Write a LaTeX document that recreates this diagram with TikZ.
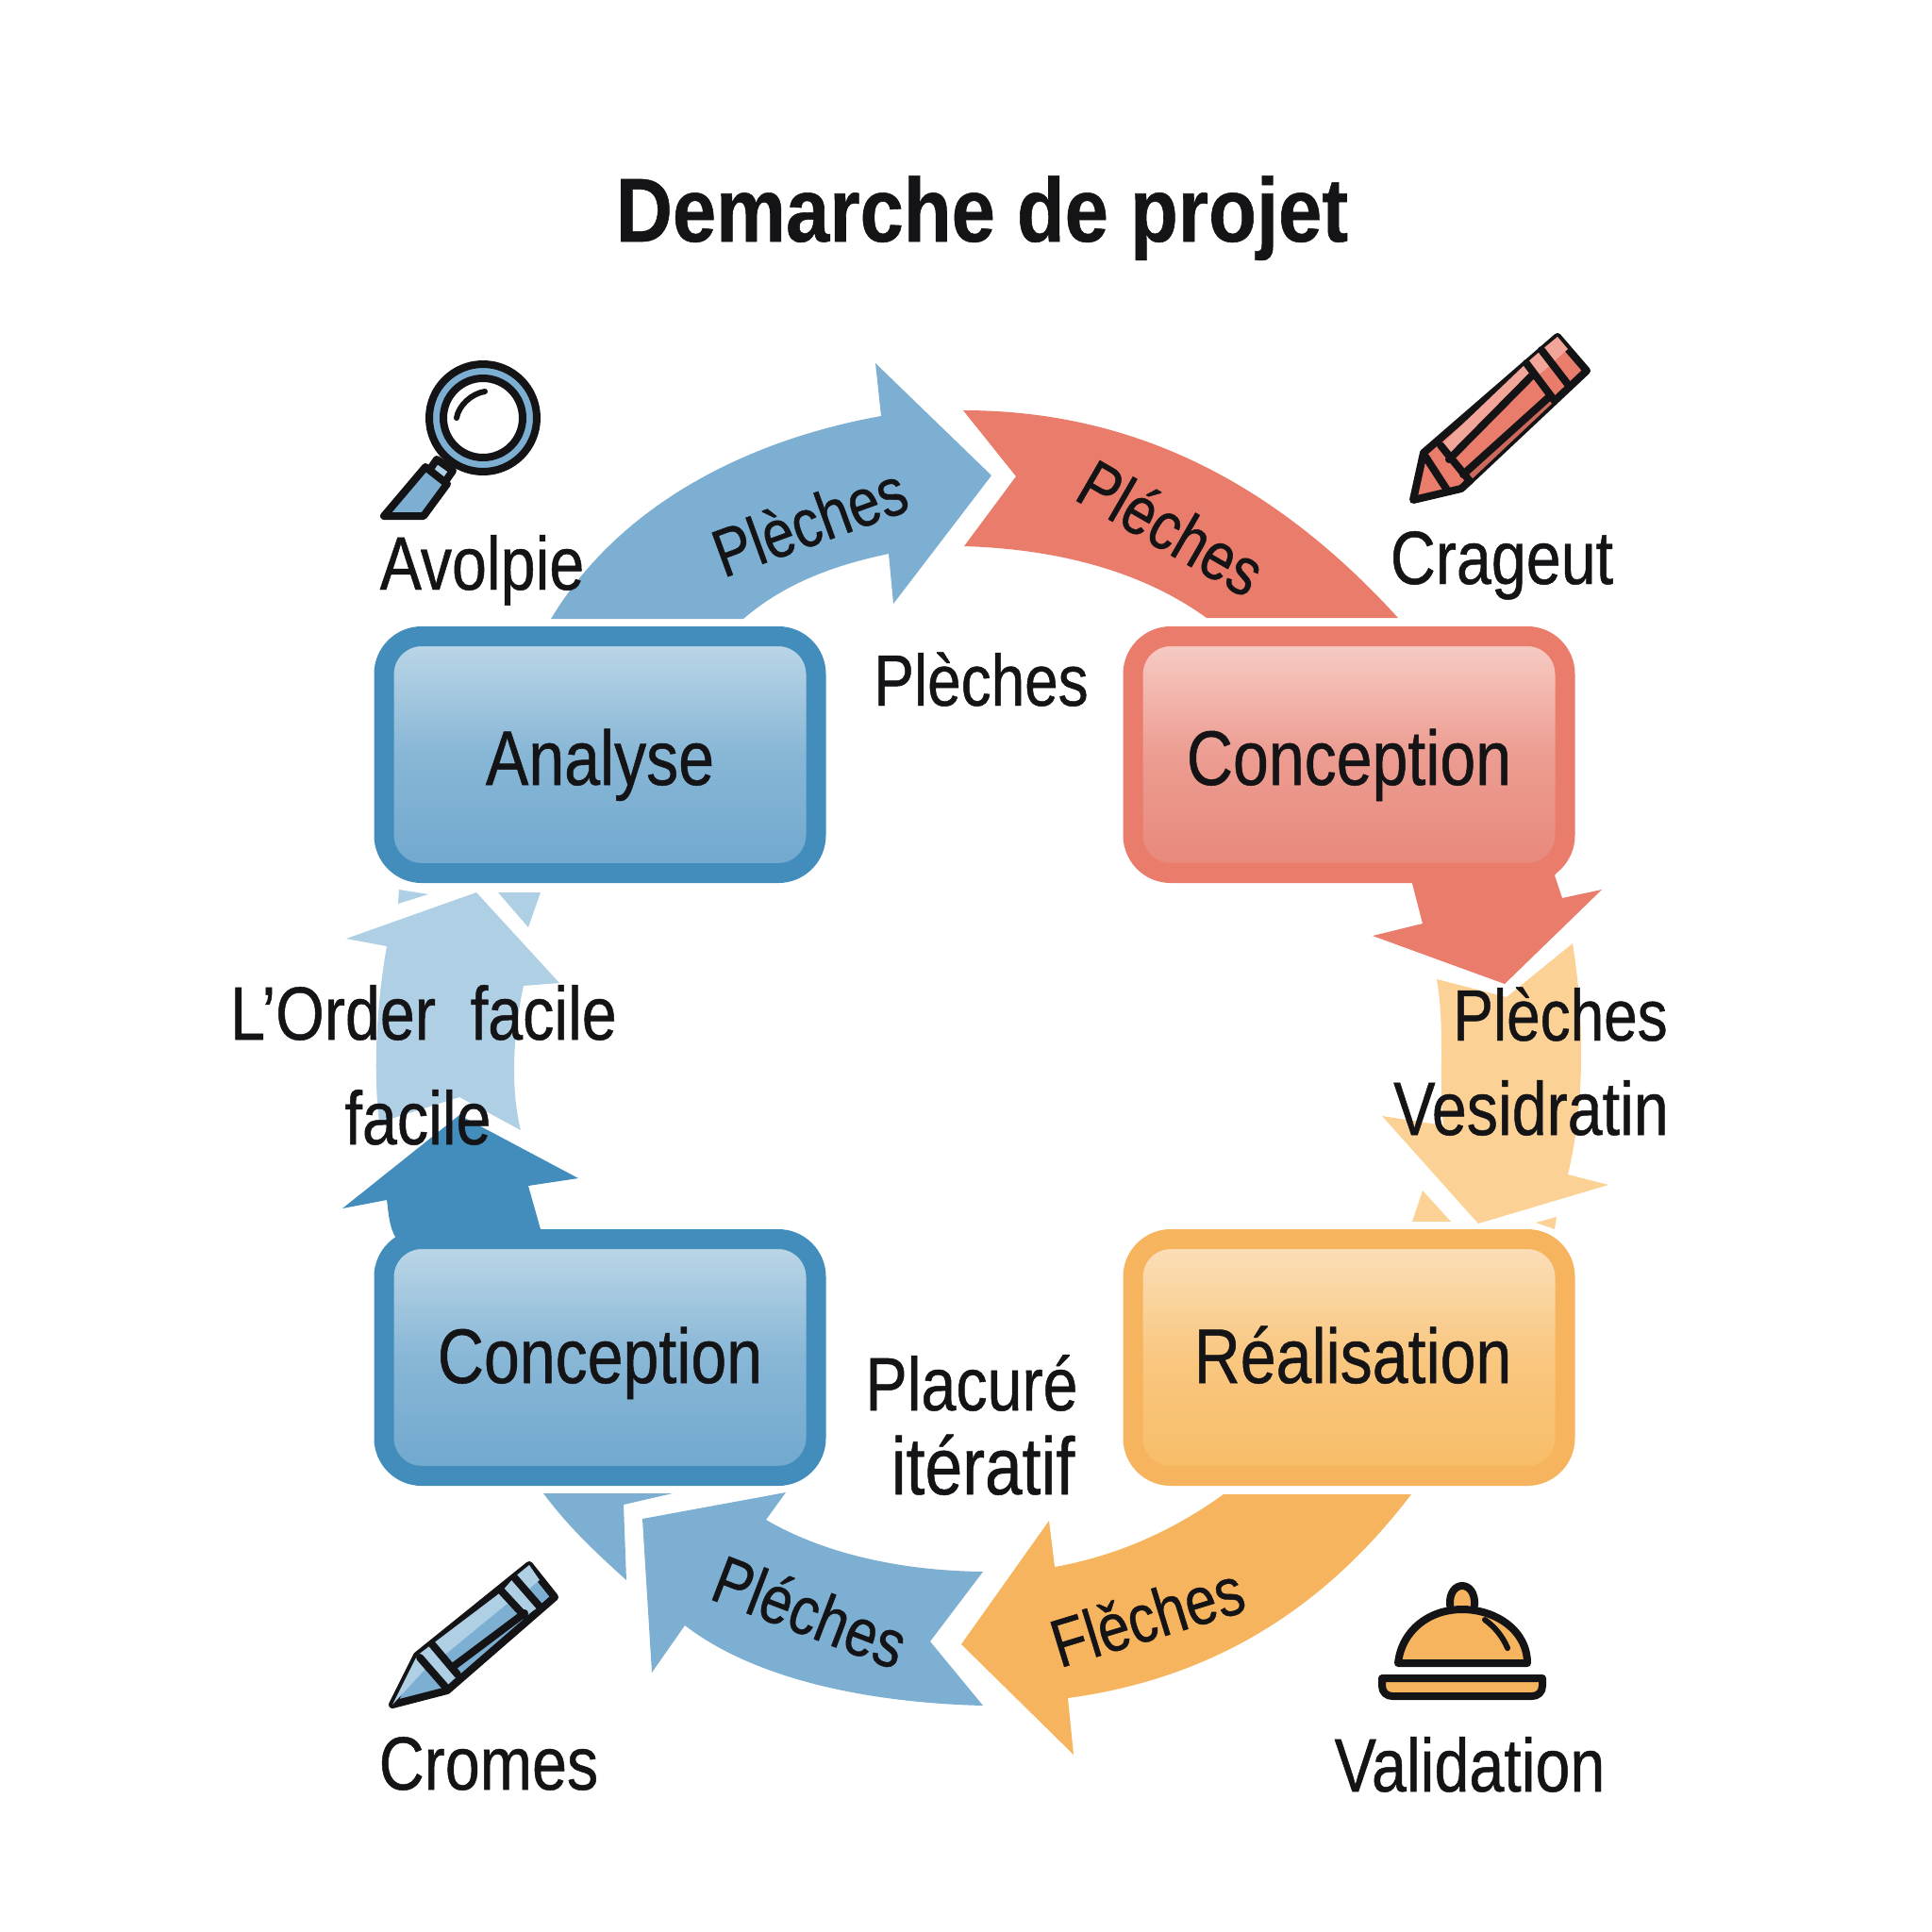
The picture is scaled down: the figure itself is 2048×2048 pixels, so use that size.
\documentclass[tikz,border=0pt]{standalone}
\usepackage{fontspec}
\setmainfont[FakeStretch=0.83,FakeBold=0.6,BoldFeatures={FakeStretch=0.866}]{Liberation Sans}
\definecolor{bluedark}{RGB}{67, 141, 189}
\definecolor{bluemid}{RGB}{125, 175, 210}
\definecolor{bluepale}{RGB}{175, 207, 229}
\definecolor{bluetop}{RGB}{190, 216, 232}
\definecolor{bluelow}{RGB}{112, 168, 206}
\definecolor{redmid}{RGB}{233, 124, 107}
\definecolor{redlight}{RGB}{242, 165, 153}
\definecolor{redshade}{RGB}{205, 105, 92}
\definecolor{redtop}{RGB}{247, 206, 199}
\definecolor{redlow}{RGB}{232, 135, 122}
\definecolor{orangemid}{RGB}{246, 180, 94}
\definecolor{orangepale}{RGB}{251, 209, 149}
\definecolor{orangetop}{RGB}{251, 224, 188}
\definecolor{orangelow}{RGB}{248, 188, 102}
\definecolor{ink}{RGB}{20, 20, 22}
\tikzset{
  stagebox/.style={rectangle, rounded corners=40pt, line width=21pt, minimum width=458pt, minimum height=251pt,
    inner sep=0pt, text height=84pt, text depth=20pt, text=ink, font=\fontsize{82}{98}\selectfont},
  lowbox/.style={stagebox, text height=74pt},
  sidetext/.style={anchor=base, inner sep=0pt, text=ink, font=\fontsize{80}{96}\selectfont},
  shorttext/.style={sidetext, font=\fontsize{77}{92}\selectfont},
  arrowtext/.style={inner sep=0pt, text=ink, font=\fontsize{72}{86}\selectfont},
  iconline/.style={draw=ink, line width=8pt, line join=round, line cap=round},
}
\begin{document}
\begin{tikzpicture}[x=1pt, y=-1pt]
\useasboundingbox (0,0) rectangle (2048,2048);
\fill [bluemid] (584,656) .. controls (660,530) and (800,465) .. (934,441) -- (928,385) -- (1051,504) -- (947,640) -- (942,587) .. controls (880,600) and (830,620) .. (788,656) -- cycle;
\fill [redmid] (1021,435) .. controls (1200,435) and (1350,510) .. (1482,655) -- (1279,655) .. controls (1210,605) and (1120,582) .. (1022,579) -- (1077,505) -- cycle;
\fill [redmid] (1494,925) -- (1508,979) -- (1455,992) -- (1595,1043) -- (1698,943) -- (1656,952) -- (1648,928) -- (1660,910) -- cycle;
\fill [orangepale] (1523,1038) -- (1597,1057) -- (1667,1000) .. controls (1680,1080) and (1680,1170) .. (1662,1245) -- (1705,1256) -- (1567,1297) -- (1465,1183) -- (1530,1193) .. controls (1525,1140) and (1532,1090) .. (1523,1038) -- cycle;
\fill [orangepale] (1508,1262) -- (1497,1295) -- (1538,1295) -- cycle;
\fill [orangepale] (1628,1296) -- (1650,1290) -- (1648,1303) -- cycle;
\fill [orangemid] (1496,1584) .. controls (1400,1710) and (1280,1780) .. (1132,1800) -- (1138,1860) -- (1019,1743) -- (1112,1612) -- (1118,1661) .. controls (1180,1650) and (1240,1625) .. (1297,1584) -- cycle;
\fill [bluemid] (1042,1808) .. controls (920,1805) and (800,1780) .. (726,1723) -- (691,1773) -- (681,1610) -- (833,1582) -- (812,1611) .. controls (870,1645) and (950,1665) .. (1042,1666) -- (986,1740) -- cycle;
\fill [bluemid] (576,1583) -- (713,1583) -- (661,1595) -- (664,1675) .. controls (625,1640) and (600,1615) .. (576,1583) -- cycle;
\fill [bluedark] (487,1182) -- (613,1249) -- (560,1257) -- (573,1303) -- (573,1320) -- (420,1320) -- (420,1313) .. controls (412,1300) and (412,1285) .. (410,1272) -- (363,1281) -- cycle;
\fill [bluepale] (505,946) -- (593,1042) -- (555,1045) .. controls (545,1090) and (540,1150) .. (552,1198) -- (487,1163) -- (402,1190) .. controls (395,1130) and (400,1060) .. (410,1003) -- (367,995) -- cycle;
\fill [bluepale] (423,943) -- (454,948) -- (422,958) -- cycle;
\fill [bluepale] (528,946) -- (573,946) -- (560,983) -- cycle;
\node (analyse) [stagebox, draw=bluedark, top color=bluetop, bottom color=bluelow, middle color=bluetop!30!bluelow] at (636,800) {Analyse};
\node (conceptionred) [stagebox, draw=redmid, top color=redtop, bottom color=redlow, middle color=redtop!30!redlow] at (1430,800) {Conception};
\node (conceptionblue) [lowbox, draw=bluedark, top color=bluetop, bottom color=bluelow, middle color=bluetop!30!bluelow] at (636,1439) {Conception};
\node (realisation) [lowbox, draw=orangemid, top color=orangetop, bottom color=orangelow, middle color=orangetop!30!orangelow] at (1430,1439) {\hspace*{8pt}Réalisation};
\node (title) [anchor=base, inner sep=0pt, text=ink, font=\fontsize{96}{110}\bfseries] at (1041,256) {\selectfont Demarche de projet};
\node (avolpie) [sidetext] at (511,625) {Avolpie};
\node (crageut) [sidetext] at (1592,619) {Crageut};
\node (plechestop) [shorttext] at (1040,748) {Plèches};
\node (order) [sidetext] at (449,1102) {L’Order\ \ facile};
\node (facile) [sidetext] at (443,1213) {facile};
\node (plechesright) [shorttext] at (1654,1103) {Plèches};
\node (vesidratin) [sidetext] at (1623,1203) {Vesidratin};
\node (placure) [sidetext] at (1030,1495) {Placuré};
\node (iteratif) [sidetext, font=\fontsize{86}{100}\selectfont] at (1042,1584) {itératif};
\node (cromes) [sidetext] at (518,1897) {Cromes};
\node (validation) [sidetext] at (1558,1899) {Validation};
\node (arrowblue) [arrowtext, rotate=20] at (858,552) {Plèches};
\node (arrowred) [arrowtext, rotate=-30] at (1242,559) {Pléches};
\node (arroworange) [arrowtext, rotate=17] at (1216,1713) {Flěches};
\node (arrowlow) [arrowtext, rotate=-21] at (859,1708) {Pléches};
\draw [iconline, fill=bluemid] (512,443) circle [radius=57];
\draw [iconline, fill=white] (512,443) circle [radius=42];
\draw [iconline, line width=6pt] (484,443) .. controls (486,430) and (500,417) .. (514,415);
\draw [iconline, fill=bluepale] (463,487) -- (480,499) -- (471,512) -- (454,500) -- cycle;
\draw [iconline, fill=bluemid] (451,495) -- (474,513) -- (449,547) -- (407,547) -- cycle;
\draw [iconline, fill=redmid] (1498,530) -- (1509,480) -- (1651,357) -- (1682,393) -- (1549,518) -- cycle;
\fill [redlight] (1527,472) -- (1618,385) -- (1625,397) -- (1536,487) -- cycle;
\fill [redshade] (1551,503) -- (1643,420) -- (1648,425) -- (1558,510) -- cycle;
\fill [redlight] (1618,385) -- (1634,371) -- (1646,385) -- (1628,400) -- cycle;
\fill [redlight] (1634,371) -- (1651,357) -- (1662,370) -- (1645,385) -- cycle;
\draw [iconline] (1511,484) -- (1535,521);
\draw [iconline] (1527,472) -- (1558,510);
\draw [iconline] (1618,385) -- (1648,425);
\draw [iconline] (1634,371) -- (1664,410);
\draw [iconline] (1536,487) -- (1625,397);
\draw [iconline] (1551,503) -- (1643,420);
\draw [iconline, fill=bluemid] (416,1807) -- (442,1755) -- (561,1659) -- (588,1693) -- (474,1792) -- cycle;
\fill [bluepale] (458,1743) -- (532,1687) -- (540,1698) -- (468,1757) -- cycle;
\fill [bluepale] (442,1755) -- (458,1743) -- (485,1775) -- (472,1788) -- cycle;
\fill [bluepale] (532,1687) -- (545,1672) -- (572,1703) -- (556,1713) -- cycle;
\fill [bluepale] (416,1807) -- (442,1755) -- (452,1768) -- cycle;
\fill [bluepale] (545,1672) -- (561,1659) -- (572,1675) -- (556,1688) -- cycle;
\draw [iconline] (445,1757) -- (472,1788);
\draw [iconline] (458,1743) -- (485,1775);
\draw [iconline] (532,1687) -- (556,1713);
\draw [iconline] (545,1672) -- (572,1703);
\draw [iconline] (480,1767) -- (556,1710);
\draw [iconline, fill=orangemid] (1537,1702) .. controls (1535,1674) and (1565,1674) .. (1563,1702);
\draw [iconline, fill=orangemid] (1482,1763) .. controls (1486,1728) and (1515,1706) .. (1550,1706) .. controls (1585,1706) and (1619,1728) .. (1619,1763) -- cycle;
\draw [iconline, line width=6pt] (1574,1717) .. controls (1585,1725) and (1593,1735) .. (1598,1747);
\draw [iconline, fill=orangemid] (1465,1779) -- (1635,1779) -- (1635,1787) .. controls (1635,1794) and (1630,1798) .. (1624,1798) -- (1476,1798) .. controls (1470,1798) and (1465,1794) .. (1465,1787) -- cycle;
\end{tikzpicture}
\end{document}
